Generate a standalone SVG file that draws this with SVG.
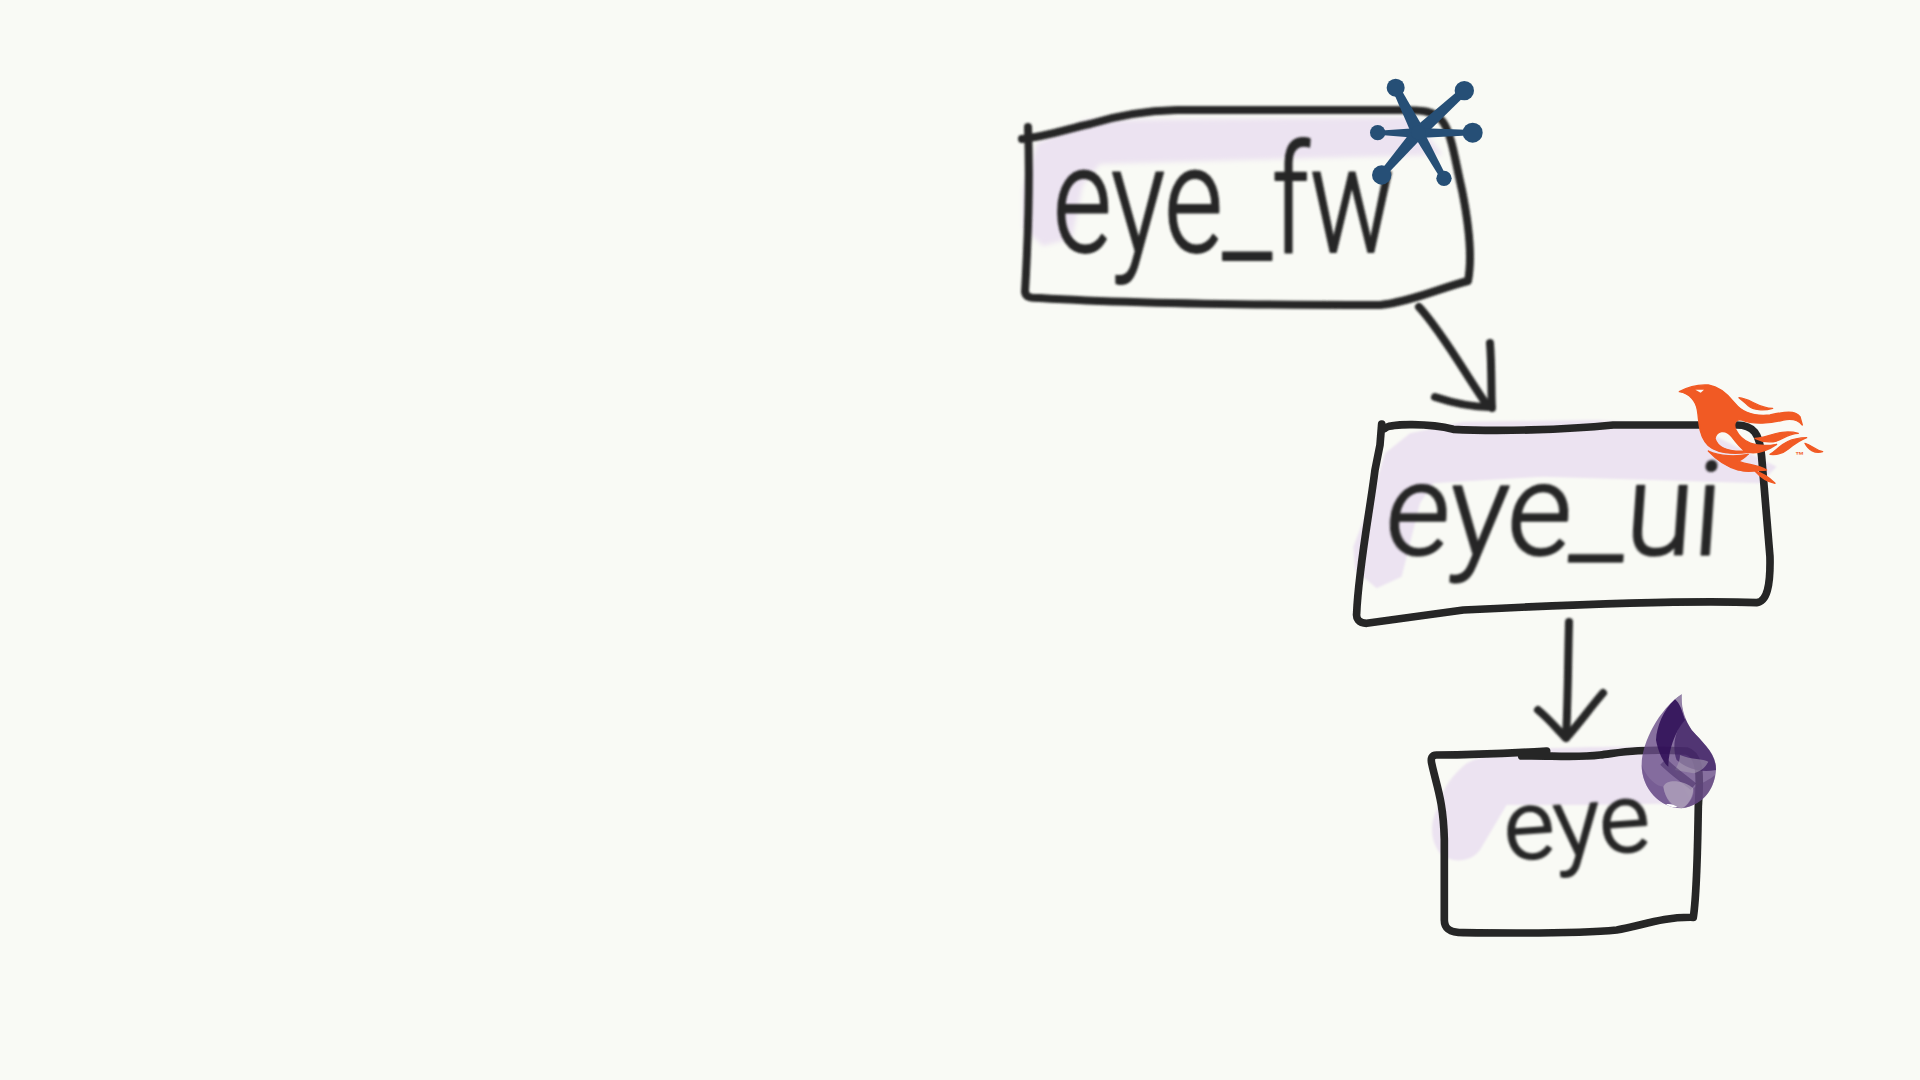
<svg xmlns="http://www.w3.org/2000/svg" width="1920" height="1080" viewBox="0 0 1920 1080">
<style>
.wash{fill:#ece3f1;filter:url(#soft3)}
.ink{fill:none;stroke:#262626;stroke-linecap:round;stroke-linejoin:round;filter:url(#soft)}
.hand{font-family:"Roboto","Liberation Sans",sans-serif;font-weight:300;fill:#262626;stroke:#262626;stroke-width:2;stroke-linejoin:round;filter:url(#soft)}
.node{fill:#264f76}
.fire{fill:#f15a24;stroke:#f15a24;stroke-width:4;stroke-linejoin:round}
</style>
<defs>
<filter id="soft" x="-10%" y="-10%" width="120%" height="120%"><feGaussianBlur stdDeviation="1"/></filter>
<filter id="soft3" x="-10%" y="-10%" width="120%" height="120%"><feGaussianBlur stdDeviation="2.5"/></filter>
</defs>
<rect width="1920" height="1080" fill="#f9faf5"/>

<g id="connectors">
<g class="ink" stroke-width="8">
<path d="M1419,307 C1443,333 1467,377 1487,405"/>
<path d="M1490,343 C1492,370 1491,395 1492,408 M1435,397 C1453,403 1470,407 1490,407"/>
<path d="M1569,622 C1568,660 1568,700 1566,738"/>
<path d="M1538,710 C1548,718 1558,730 1566,738 C1578,725 1590,708 1603,693"/>
</g>
</g>

<g id="eye_fw">
<path class="wash" d="M1037,143 L1087,120 L1413,117 L1443,155 L1247,160 L1100,164 L1083,185 L1072,238 L1043,246 L1023,228 L1023,190 Z"/>
<path class="ink" stroke-width="8" d="M1028,127 C1030,180 1028,240 1025,292 C1026,298 1032,298 1040,298 C1120,303 1250,305 1380,305 C1410,302 1440,288 1468,281 C1472,260 1470,230 1462,190 C1455,160 1452,135 1443,122 C1435,110 1420,110 1400,110 L1177,110 C1140,111 1115,116 1090,124 C1070,128 1050,136 1022,139"/>
<text class="hand" x="1053" y="252" font-size="150" textLength="342" lengthAdjust="spacingAndGlyphs">eye_fw</text>
<g id="nerves-logo" transform="translate(1365,70) scale(0.3333)">
<path class="node" d="M102,47 L82,59 L142,197 L178,179 Z"/>
<path class="node" d="M306,71 L290,53 L147,174 L173,202 Z"/>
<path class="node" d="M38,182 L38,194 L160,204 L160,174 Z"/>
<path class="node" d="M323,180 L323,196 L160,204 L160,174 Z"/>
<path class="node" d="M58,322 L42,308 L146,175 L174,200 Z"/>
<path class="node" d="M245,321 L229,329 L146,196 L174,180 Z"/>
<circle class="node" cx="160" cy="188" r="22"/>
<circle class="node" cx="92" cy="53" r="27"/><circle class="node" cx="298" cy="62" r="29"/>
<circle class="node" cx="38" cy="188" r="23"/><circle class="node" cx="323" cy="188" r="30"/>
<circle class="node" cx="50" cy="315" r="29"/><circle class="node" cx="237" cy="325" r="23"/>
</g>
</g>

<g id="eye_ui">
<g transform="translate(1330,370) scale(0.3333)">
<path class="wash" d="M165,250 L240,190 L400,155 L800,150 L1100,170 L1340,290 L1290,340 L640,320 L310,340 L270,400 L215,620 L140,655 L75,600 L70,530 L120,400 Z"/>
<path class="ink" stroke-width="23" d="M155,162 L150,225 L135,300 C120,420 85,600 80,730 C78,745 85,760 110,760 L400,720 C700,705 1100,690 1280,698 C1310,695 1322,650 1320,560 L1310,440 L1295,260 C1290,190 1270,165 1220,165 L850,165 C700,180 500,185 370,178 C300,160 180,160 165,175"/>
</g>
<text class="hand" transform="matrix(1 0 -0.07 1 39 0)" x="1383" y="555" font-size="129" textLength="336" lengthAdjust="spacingAndGlyphs">eye_ui</text>
<g id="phoenix-logo" transform="translate(1670,375) scale(0.3333)">
<path class="fire" fill-rule="evenodd" d="M28,50 C55,35 85,28 115,30 C150,35 175,60 195,85 C215,110 250,125 300,120 C345,110 375,105 390,125 L397,150 C385,135 365,130 340,135 C305,145 250,150 215,135 C195,130 190,150 198,165 C215,200 255,220 320,208 C295,225 265,237 235,232 C200,237 130,240 105,200 C85,170 88,140 82,105 C78,80 60,55 28,50 Z M135,190 C140,168 165,160 185,185 C200,205 215,222 225,228 C190,230 145,225 135,190 Z"/>
<path class="fire" d="M115,228 C150,245 200,245 235,238 C225,245 215,255 205,258 C230,270 260,268 290,285 C265,285 235,295 205,285 C170,275 140,255 115,228 Z"/>
<path class="fire" d="M255,288 C280,295 300,310 315,325 C290,320 270,305 255,288 Z"/>
<path class="fire" d="M207,68 C240,70 265,100 308,100 C280,108 250,105 235,92 C225,82 215,75 207,68 Z"/>
<path class="fire" d="M255,190 C290,190 330,160 385,175 C360,175 340,190 320,198 C300,203 275,200 255,190 Z"/>
<path class="fire" d="M300,238 C330,220 340,190 410,188 C390,195 370,210 355,222 C340,235 320,240 300,238 Z"/>
<path class="fire" d="M405,205 C425,210 435,225 458,230 C435,237 415,225 405,205 Z"/>
<path fill="#f9faf5" d="M76,44 L102,44 L92,53 Z"/>
<text x="375" y="248" font-size="27" font-weight="700" font-family="Liberation Sans,sans-serif" fill="#f15a24">™</text>
</g>
</g>

<g id="eye">
<g transform="translate(1400,640) scale(0.3333)">
<path class="wash" d="M200,370 C300,320 500,320 780,320 L880,490 L560,495 L320,495 L240,630 C210,670 150,670 120,640 C90,600 90,550 110,510 C125,460 140,420 200,370 Z"/>
<path class="ink" stroke-width="23" d="M440,333 C330,340 200,345 110,345 C95,345 92,355 95,370 C110,440 130,480 133,600 L133,840 C133,870 155,878 190,878 C350,880 550,880 650,870 C720,860 780,830 880,832 C885,800 892,700 895,500 C900,420 905,345 860,333 C700,325 650,340 600,345 C520,355 440,345 365,348"/>
</g>
<text class="hand" transform="rotate(-4 1506 860)" x="1506" y="860" font-size="97" textLength="146" lengthAdjust="spacingAndGlyphs">eye</text>
<g id="elixir-logo" transform="translate(1630,690) scale(0.3333)">
<path fill="#6a4e8a" fill-opacity="0.8" d="M155,13 C153,55 165,90 185,120 C220,160 260,190 258,240 C255,290 225,345 155,355 C90,355 35,295 35,225 C35,160 85,60 155,13 Z"/>
<path fill="#9888aa" fill-opacity="0.8" d="M155,13 C153,50 160,75 165,90 C155,60 150,40 135,28 Z"/>
<path fill="#2f0e57" fill-opacity="0.88" d="M135,28 C100,60 80,110 78,150 C85,190 105,225 115,230 C115,190 130,130 165,90 C155,60 150,40 135,28 Z"/>
<path fill="#3d1f63" fill-opacity="0.72" d="M165,85 C135,120 125,170 140,210 C170,235 210,250 258,240 C258,190 220,160 185,120 C175,105 170,95 165,85 Z"/>
<path fill="#a79bb3" fill-opacity="0.6" d="M150,195 C150,215 140,230 135,240 L190,250 C210,245 225,235 235,215 C220,205 185,210 150,195 Z"/>
<path fill="none" stroke="#3a1f5c" stroke-opacity="0.45" stroke-width="26" d="M100,215 C130,245 160,265 190,290"/>
<path fill="#6a4e8a" fill-opacity="0.5" d="M35,225 C50,265 80,290 100,290 C105,320 120,345 130,350 C80,340 35,290 35,225 Z"/>
<path fill="#b9aec1" fill-opacity="0.65" d="M100,290 C110,265 160,270 190,295 C190,325 170,350 155,355 C125,350 105,325 100,290 Z"/>
<path fill="#5d4278" fill-opacity="0.55" d="M190,295 C210,280 240,270 255,255 C250,295 225,340 160,355 C180,340 195,315 190,295 Z"/>
<path fill="#ffffff" d="M108,343 C120,340 132,345 142,350 C130,354 118,350 108,343 Z"/>
</g>
</g>
</svg>
